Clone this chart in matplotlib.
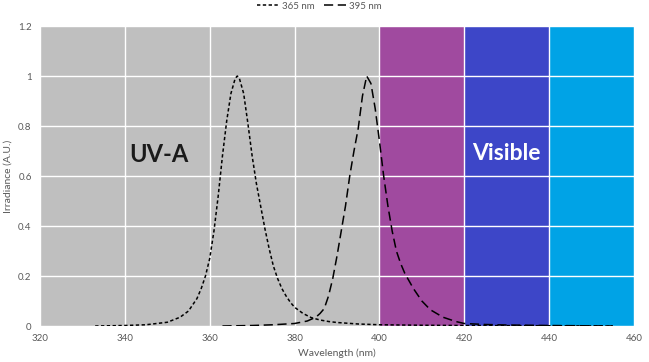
import matplotlib
matplotlib.use("Agg")
import matplotlib.pyplot as plt

plt.rcParams['font.family'] = ['Lato', 'DejaVu Sans']

# Spectral bands (nm)
band_starts = [320, 400, 420, 440]
band_ends = [400, 420, 440, 460]
band_colors = ['#bfbfbf', '#a04a9f', '#3d46c8', '#00a3e6']

# 365 nm LED spectrum
wl_365 = [333, 340, 345, 350, 353, 355, 357, 358, 359, 360, 361, 362, 363, 364, 365,
          366, 366.5, 367, 368, 369, 370, 371, 372, 373, 374, 375, 376, 377, 378, 379,
          380, 382, 384, 386, 388, 390, 395, 400, 410, 420, 440, 455]
irr_365 = [0.0, 0.002, 0.005, 0.015, 0.035, 0.06, 0.11, 0.15, 0.2, 0.27, 0.38, 0.52, 0.68, 0.82, 0.93,
           0.99, 1.0, 0.99, 0.93, 0.81, 0.68, 0.57, 0.48, 0.39, 0.31, 0.24, 0.19, 0.15, 0.12, 0.095,
           0.075, 0.05, 0.033, 0.024, 0.018, 0.014, 0.008, 0.005, 0.003, 0.002, 0.001, 0.0]

# 395 nm LED spectrum
wl_395 = [363, 370, 375, 380, 383, 385, 386, 387, 388, 389, 390, 391, 392, 393, 394,
          395, 396, 397, 398, 399, 400, 401, 402, 403, 404, 405, 406, 407, 408, 410,
          412, 415, 418, 420, 425, 430, 440, 455]
irr_395 = [0.0, 0.002, 0.005, 0.01, 0.02, 0.035, 0.05, 0.07, 0.12, 0.19, 0.28, 0.38, 0.48, 0.6, 0.7,
           0.79, 0.92, 1.0, 0.97, 0.87, 0.74, 0.6, 0.48, 0.38, 0.3, 0.25, 0.21, 0.18, 0.15, 0.1,
           0.065, 0.035, 0.018, 0.01, 0.006, 0.004, 0.002, 0.0]

x_ticks = [320, 340, 360, 380, 400, 420, 440, 460]
y_ticks = [0, 0.2, 0.4, 0.6, 0.8, 1.0, 1.2]
y_tick_labels = ['0', '0.2', '0.4', '0.6', '0.8', '1', '1.2']

fig = plt.figure(figsize=(6.49, 3.62), dpi=100)
ax = fig.add_axes([40/649, 1-326/362, 594/649, 300/362])

widths = [e - s for s, e in zip(band_starts, band_ends)]
ax.bar(band_starts, [1.2]*len(band_starts), width=widths, align='edge',
       color=band_colors, zorder=0, linewidth=0)

for xv in x_ticks:
    ax.axvline(xv, color='white', lw=1.0, zorder=1)
for yv in y_ticks:
    ax.axhline(yv, color='white', lw=1.0, zorder=1)

l1, = ax.plot(wl_365, irr_365, color='black', lw=1.1, linestyle=(0, (2.2, 1.6)), zorder=3, label='365 nm')
l2, = ax.plot(wl_395, irr_395, color='black', lw=1.1, linestyle=(0, (6, 3)), zorder=3, label='395 nm')

ax.set_xlim(320, 460)
ax.set_ylim(0, 1.2)
ax.set_xticks(x_ticks)
ax.set_yticks(y_ticks)
ax.set_yticklabels(y_tick_labels)
ax.tick_params(length=0, labelsize=7, colors='#595959', pad=6)
for s in ax.spines.values():
    s.set_visible(False)

ax.set_xlabel('Wavelength (nm)', fontsize=7.5, color='#595959', labelpad=4)
ax.set_ylabel('Irradiance (A.U.)', fontsize=7.5, color='#595959', labelpad=4)

ax.text(348, 0.685, 'UV-A', fontsize=17, fontweight='bold', color='#1a1a1a', ha='center', va='center')
ax.text(430, 0.69, 'Visible', fontsize=16.5, fontweight='bold', color='white', ha='center', va='center')

fig.legend(handles=[l1, l2], loc='upper center', bbox_to_anchor=(0.492, 1.02), ncol=2,
           frameon=False, fontsize=7, labelcolor='#595959', handlelength=2.3,
           columnspacing=0.9, handletextpad=0.3)

fig.savefig('out.png', dpi=100)
